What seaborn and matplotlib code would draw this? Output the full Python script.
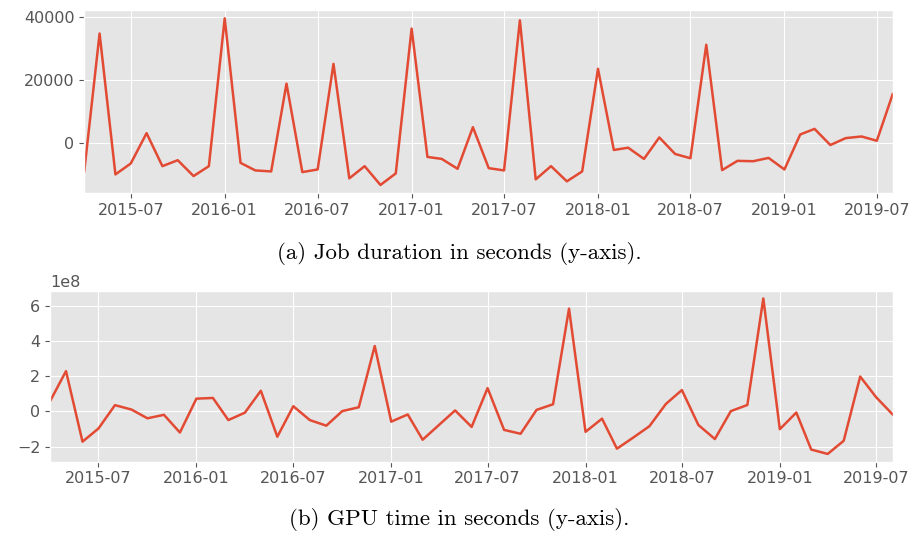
import pandas as pd
import matplotlib
matplotlib.use("Agg")
import matplotlib.pyplot as plt
import matplotlib.dates as mdates
import seaborn as sns

# monthly points, 2015-04 .. 2019-08
months = pd.date_range("2015-04-01", "2019-08-01", freq="MS")

# (a) job duration in seconds
job_duration = [
    -8900, 34760, -9950, -6490, 3140, -7330, -5440, -10470, -7330,
    39580, -6280, -8690, -9000, 18850, -9210, -8380, 25130, -11200, -7330, -13300, -9630,
    36330, -4400, -5030, -8170, 5030, -7960, -8690, 38950, -11520, -7330, -12150, -9000,
    23560, -2200, -1470, -5030, 1780, -3460, -4820, 31200, -8590, -5650, -5760, -4710,
    -8380, 2720, 4500, -630, 1570, 2090, 730, 15500,
]

# (b) GPU time in seconds (units of 1e8)
gpu_time = [
    0.58, 2.30, -1.72, -0.97, 0.36, 0.11, -0.39, -0.19, -1.20,
    0.73, 0.77, -0.49, -0.07, 1.18, -1.44, 0.30, -0.49, -0.81, 0.02, 0.24, 3.73,
    -0.58, -0.17, -1.61, -0.76, 0.06, -0.88, 1.33, -1.05, -1.27, 0.09, 0.41, 5.86,
    -1.16, -0.41, -2.12, -1.48, -0.84, 0.43, 1.22, -0.77, -1.57, 0.02, 0.37, 6.44,
    -1.01, -0.06, -2.17, -2.42, -1.67, 1.99, 0.81, -0.17,
]

df = pd.DataFrame({
    "month": months,
    "job_duration": job_duration,
    "gpu_time": [v * 1e8 for v in gpu_time],
})

plt.style.use("ggplot")
plt.rcParams["xtick.labelsize"] = 11.5
plt.rcParams["ytick.labelsize"] = 11.5
plt.rcParams["xtick.color"] = "#555555"
plt.rcParams["ytick.color"] = "#555555"

fig = plt.figure(figsize=(9.18, 5.38), dpi=100)
ax1 = fig.add_axes([0.0918, 0.6407, 0.8806, 0.3407])
ax2 = fig.add_axes([0.0545, 0.1418, 0.9179, 0.3179])

sns.lineplot(data=df, x="month", y="job_duration", ax=ax1, color="#E24A33", linewidth=1.8)
sns.lineplot(data=df, x="month", y="gpu_time", ax=ax2, color="#E24A33", linewidth=1.8)

for ax in (ax1, ax2):
    ax.set_xlim(months[0], months[-1])
    ax.xaxis.set_major_locator(mdates.MonthLocator(bymonth=[1, 7]))
    ax.xaxis.set_major_formatter(mdates.DateFormatter("%Y-%m"))
    ax.set_xlabel("")
    ax.set_ylabel("")

ax1.set_yticks([0, 20000, 40000])
ax2.set_yticks([-2e8, 0, 2e8, 4e8, 6e8])
ax2.yaxis.get_offset_text().set_fontsize(11.5)
ax2.yaxis.get_offset_text().set_color("#555555")

# captions
fig.text(0.5, 0.529, "(a) Job duration in seconds (y-axis).", ha="center", va="center",
         family="cmr10", fontsize=16.5, color="black")
fig.text(0.5, 0.035, "(b) GPU time in seconds (y-axis).", ha="center", va="center",
         family="cmr10", fontsize=16.5, color="black")

fig.savefig("out.png", dpi=100)
